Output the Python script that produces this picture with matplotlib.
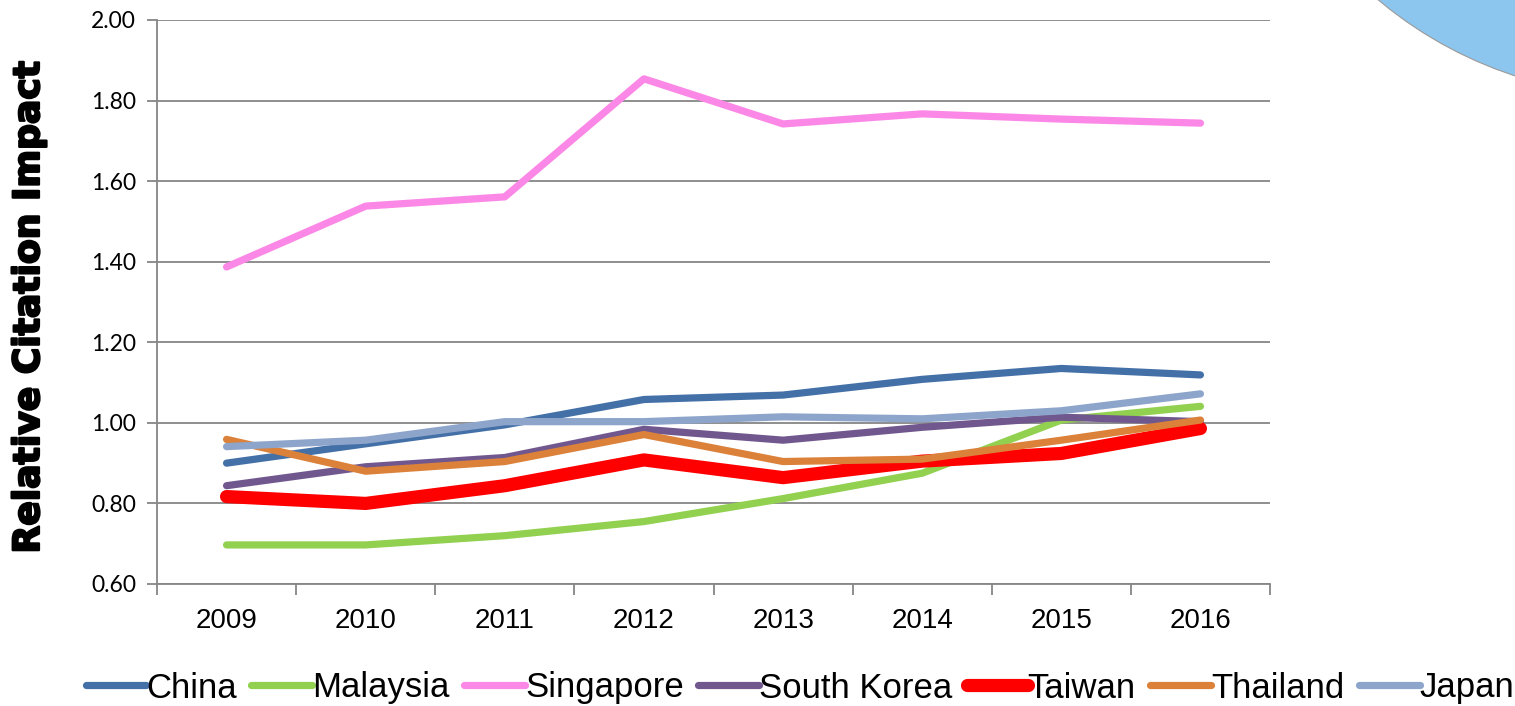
import matplotlib
matplotlib.use("Agg")
import matplotlib.pyplot as plt
from matplotlib.patches import Ellipse
import matplotlib.patheffects as pe
import numpy as np

years = ["2009", "2010", "2011", "2012", "2013", "2014", "2015", "2016"]
china = [0.900, 0.948, 0.995, 1.058, 1.069, 1.108, 1.135, 1.119]
malaysia = [0.697, 0.697, 0.720, 0.755, 0.812, 0.875, 1.007, 1.041]
singapore = [1.387, 1.538, 1.561, 1.854, 1.742, 1.767, 1.754, 1.744]
south_korea = [0.844, 0.891, 0.914, 0.984, 0.957, 0.989, 1.014, 1.003]
taiwan = [0.817, 0.800, 0.844, 0.908, 0.864, 0.905, 0.924, 0.986]
thailand = [0.959, 0.880, 0.904, 0.971, 0.904, 0.910, 0.957, 1.007]
japan = [0.941, 0.957, 1.003, 1.003, 1.015, 1.010, 1.030, 1.072]

series = [
    ("China", china, "#4470a8", 5.2),
    ("Malaysia", malaysia, "#92d050", 5.2),
    ("Singapore", singapore, "#fb88e6", 5.2),
    ("South Korea", south_korea, "#70588e", 5.2),
    ("Taiwan", taiwan, "#ff0000", 9.5),
    ("Thailand", thailand, "#db813a", 5.2),
    ("Japan", japan, "#8ea5cb", 5.2),
]

W, H = 1515, 706
fig = plt.figure(figsize=(W / 100, H / 100), dpi=100)

# decorative ellipse top-right
circ = Ellipse((1642 / W, 1 + 314 / H), 2 * 410 / W, 2 * 410 / H,
               transform=fig.transFigure, facecolor="#8cc5ed",
               edgecolor="#9a9a9a", linewidth=0.8, zorder=0)
fig.patches.append(circ)

ax = fig.add_axes([157 / W, 1 - 584 / H, (1270 - 157) / W, (584 - 20) / H])
x = np.arange(len(years))
for name, vals, col, lw in series:
    ax.plot(x, vals, color=col, linewidth=lw, solid_capstyle="round",
            solid_joinstyle="round", label=name, zorder=3)

ax.set_xlim(-0.5, len(years) - 0.5)
ax.set_ylim(0.6, 2.0)
yt = np.arange(0.6, 2.001, 0.2)
ax.set_yticks(yt)
ax.set_yticklabels([f"{v:.2f}" for v in yt], fontfamily="Lato", fontsize=16.5)
ax.set_xticks(x)
ax.set_xticklabels(years, fontfamily="Liberation Sans", fontsize=20)
ax.set_xticks(np.arange(-0.5, len(years)), minor=True)
ax.tick_params(axis="x", which="major", length=0, pad=17)
ax.tick_params(axis="x", which="minor", length=8, width=1.3, color="#868686")
ax.tick_params(axis="y", length=7, width=1.3, color="#868686", pad=8)

ax.grid(axis="y", color="#868686", linewidth=1.3, zorder=1)
ax.set_axisbelow(True)
for s in ["top", "right"]:
    ax.spines[s].set_visible(False)
for s in ["left", "bottom"]:
    ax.spines[s].set_color("#868686")
    ax.spines[s].set_linewidth(1.3)

fig.text(29 / W, 1 - 307 / H, "Relative Citation Impact", rotation=90,
         ha="center", va="center", fontsize=26, fontweight="heavy",
         fontfamily="DejaVu Sans",
         path_effects=[pe.withStroke(linewidth=1.6, foreground="black")])

leg = fig.legend(loc="center", bbox_to_anchor=(800 / W, 1 - 688 / H),
                 ncol=7, frameon=False, handlelength=1.75, handletextpad=0.0,
                 columnspacing=0.42,
                 prop={"family": "Liberation Sans", "size": 25})
for h in leg.get_lines():
    h.set_solid_capstyle("round")

fig.savefig("out.png", dpi=100)
